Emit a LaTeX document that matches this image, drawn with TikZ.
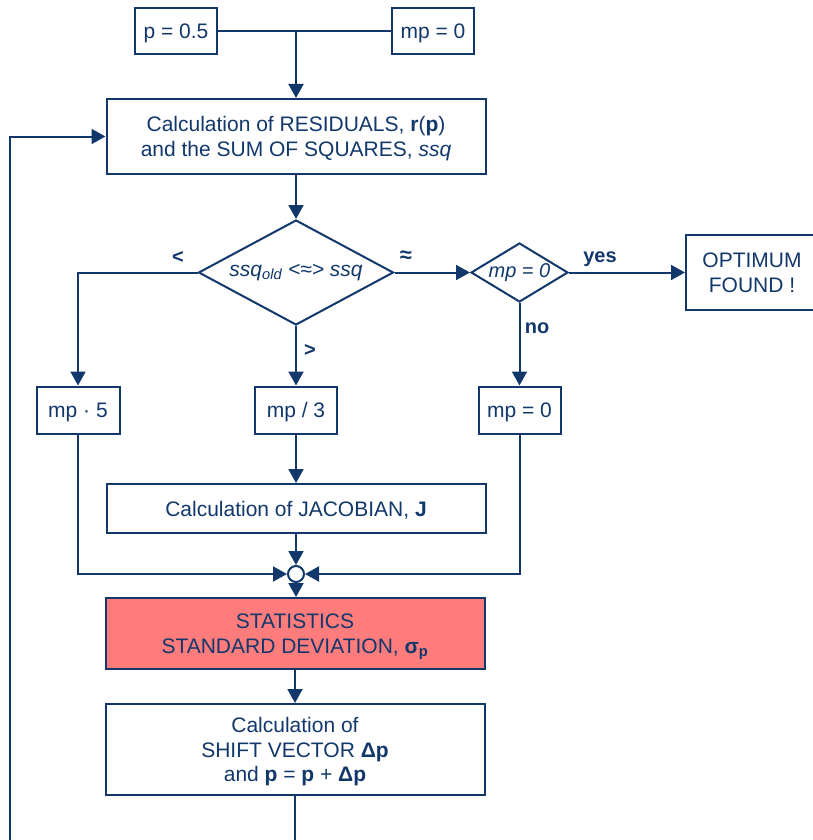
\documentclass[tikz,border=0pt]{standalone}
\usepackage{fontspec}
\setmainfont{Liberation Sans}
\usetikzlibrary{arrows.meta,shapes.geometric}
\definecolor{navy}{HTML}{12386B}
\definecolor{statred}{RGB}{255,124,124}
\begin{document}
\begin{tikzpicture}[x=1pt,y=-1pt,
  font=\fontsize{21}{24.5}\selectfont,
  every node/.style={text=navy},
  line/.style={draw=navy,line width=2pt},
  arr/.style={line,-{Triangle[length=14pt,width=15pt]}},
  box/.style={draw=navy,line width=2pt,fill=white,rectangle,inner sep=0pt,align=center,text depth=0pt},
  choice/.style={draw=navy,line width=2pt,fill=white,diamond,inner sep=0pt,align=center},
  tag/.style={font=\fontsize{20}{23}\selectfont\bfseries}]
\useasboundingbox (0,0) rectangle (812,840);

% start values
\node[box,minimum width=82pt,minimum height=46pt] (pstart) at (176,31) {p = 0.5};
\node[box,minimum width=82pt,minimum height=46pt] (mpstart) at (433,31) {mp = 0};
\coordinate (join) at (296,31);

% residuals and the decision
\node[box,minimum width=379pt,minimum height=75pt] (resid) at (296,136.5)
  {Calculation of RESIDUALS, \textbf{r}(\textbf{p})\\and the SUM OF SQUARES, \textit{ssq}};
\node[choice,aspect=1.857,minimum width=195pt,minimum height=105pt] (cmp) at (296,272.5)
  {\itshape ssq\textsubscript{old} <≈> ssq};
\node[choice,aspect=1.64,minimum width=97pt,minimum height=59pt,font=\fontsize{20}{23}\selectfont] (mpzero) at (519.5,272.5)
  {\itshape mp = 0};
\node[box,minimum width=132pt,minimum height=75pt] (optimum) at (752,272.5)
  {OPTIMUM\\FOUND !};

% Marquardt parameter updates
\node[box,minimum width=83pt,minimum height=47pt] (mpup) at (78,410) {mp · 5};
\node[box,minimum width=82pt,minimum height=47pt] (mpdown) at (296,410) {mp / 3};
\node[box,minimum width=82pt,minimum height=47pt] (mpreset) at (519.5,410) {mp = 0};

\node[box,minimum width=379pt,minimum height=49pt] (jacobian) at (296,508.5)
  {Calculation of JACOBIAN, \textbf{J}};
\node[draw=navy,line width=2pt,fill=white,circle,minimum size=16pt,inner sep=0pt] (merge) at (296,574) {};

\node[box,fill=statred,minimum width=379pt,minimum height=71pt] (stats) at (295,633.5)
  {STATISTICS\\STANDARD DEVIATION, \textbf{σ\textsubscript{p}}};
\node[box,minimum width=379pt,minimum height=91pt] (shift) at (295,749.5)
  {Calculation of\\SHIFT VECTOR \textbf{Δp}\\and \textbf{p} = \textbf{p} + \textbf{Δp}};

\coordinate (tailend) at (295,850);
\coordinate (loopend) at (10,850);

% connectors
\draw[line] (pstart.east) -- (mpstart.west);
\draw[arr] (join) -- (resid.north);
\draw[arr] (resid.south) -- (cmp.north);
\draw[arr] (cmp.east) -- (mpzero.west);
\draw[arr] (mpzero.east) -- (optimum.west);
\draw[arr] (cmp.west) -| (mpup.north);
\draw[arr] (cmp.south) -- (mpdown.north);
\draw[arr] (mpzero.south) -- (mpreset.north);
\draw[arr] (mpdown.south) -- (jacobian.north);
\draw[arr] (jacobian.south) -- (merge.north);
\draw[arr] (mpup.south) |- (merge.west);
\draw[arr] (mpreset.south) |- (merge.east);
\draw[arr] (merge.south) -- (merge.south |- stats.north);
\draw[arr] (stats.south) -- (shift.north);
\draw[line] (shift.south) -- (tailend);
\draw[arr] (loopend) |- (resid.west);

% branch labels
\node[tag] (lt) at (178,257) {<};
\node[tag,font=\fontsize{22}{24}\selectfont\bfseries] (approx) at (406,257) {≈};
\node[tag] (gt) at (310,350) {>};
\node[tag] (yes) at (600,259) {yes};
\node[tag] (no) at (537,328) {no};
\end{tikzpicture}
\end{document}
